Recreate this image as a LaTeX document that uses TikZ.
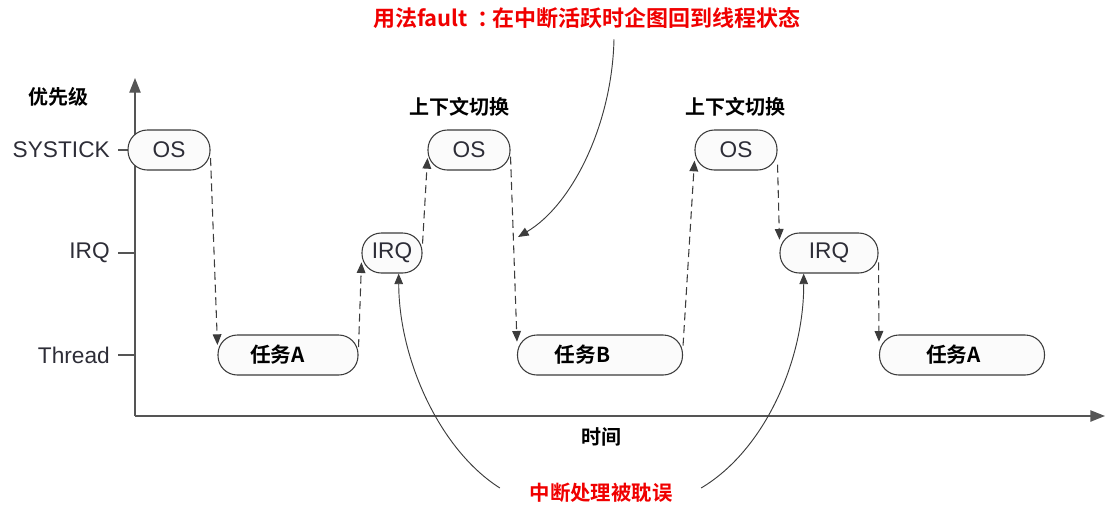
\documentclass[tikz,border=0pt]{standalone}
\usepackage{fontspec}
\setmainfont{Liberation Sans}
\newfontfamily\cjk{Noto Sans CJK SC}[BoldFont={Noto Sans CJK SC Bold}]
\usetikzlibrary{arrows.meta, calc}
\definecolor{linegray}{RGB}{60,60,60}
\definecolor{axisgray}{RGB}{85,85,85}
\definecolor{labelgray}{RGB}{45,45,55}
\definecolor{notered}{RGB}{240,0,0}

\begin{document}
\begin{tikzpicture}[x=0.75pt, y=-0.75pt,
  statebox/.style={draw=linegray, line width=0.8pt, fill=gray!3, rounded corners=14.5pt, minimum height=30pt, inner sep=0pt, text=labelgray, font=\fontsize{17pt}{20pt}\selectfont},
  taskbox/.style={statebox, text=black, font=\cjk\bfseries\fontsize{15.5pt}{18pt}\selectfont},
  levellabel/.style={anchor=east, inner xsep=0pt, text=labelgray, font=\fontsize{17pt}{20pt}\selectfont},
  cnlabel/.style={font=\cjk\bfseries\fontsize{15pt}{18pt}\selectfont},
  notelabel/.style={text=notered, font=\cjk\bfseries\fontsize{16.5pt}{19pt}\selectfont},
  flow/.style={draw=linegray, line width=0.8pt, dash pattern=on 6pt off 3.5pt, -{Triangle[length=8pt,width=6.5pt]}},
  pointer/.style={draw=linegray, line width=0.7pt, -{Triangle[length=8pt,width=6.5pt]}},
  axisline/.style={draw=axisgray, line width=1pt, -{Triangle[length=11pt,width=8.5pt]}}
]
  \useasboundingbox (0,0) rectangle (1105,504);

  % axes and ticks
  \coordinate (origin) at (135,416);
  \draw[axisline] (origin) -- (135,78);
  \draw[axisline] (origin) -- (1105,416);
  \foreach \yy in {150,253,355}
    \draw[axisgray, line width=0.8pt] (118,\yy) -- (135,\yy);

  \node[cnlabel] (prio) at (58,97) {优先级};
  \node[levellabel] (systick) at (110,150) {SYSTICK};
  \node[levellabel] (irqlvl) at (110,253) {IRQ};
  \node[levellabel] (thread) at (110,355) {Thread};
  \node[cnlabel] (time) at (601,437) {时间};

  % states
  \node[statebox, minimum width=61.5pt] (os1) at (169,150) {OS};
  \node[taskbox, minimum width=105pt] (taska) at (288,355) {任务A\kern16pt};
  \node[statebox, minimum width=45pt] (irq1) at (392,253) {IRQ};
  \node[statebox, minimum width=61.5pt] (os2) at (469,150) {OS};
  \node[taskbox, minimum width=123.75pt] (taskb) at (600,355) {任务B\kern26pt};
  \node[statebox, minimum width=61.5pt] (os3) at (736,150) {OS};
  \node[statebox, minimum width=73.5pt] (irq2) at (829,253) {IRQ};
  \node[taskbox, minimum width=123.75pt] (taska2) at (962,355) {任务A\kern13pt};

  \node[cnlabel] (switch1) at (459,107) {上下文切换};
  \node[cnlabel] (switch2) at (735,107) {上下文切换};

  % transitions
  \draw[flow] ([yshift=-6pt]os1.east) -- ([yshift=7.5pt]taska.west);
  \draw[flow] ([yshift=6pt]taska.east) -- ([yshift=-7pt]irq1.west);
  \draw[flow] ([yshift=7pt]irq1.east) -- ([yshift=-6pt]os2.west);
  \draw[flow] ([yshift=-5pt]os2.east) -- ([yshift=10pt]taskb.west);
  \draw[flow] ([yshift=7pt]taskb.east) -- ([yshift=-8pt]os3.west);
  \draw[flow] ([yshift=-11pt]os3.east) -- ([yshift=10pt]irq2.west);
  \draw[flow] ([yshift=-7pt]irq2.east) -- ([yshift=10pt]taska2.west);

  % notes
  \node[notelabel] (fault) at (587,18) {用法fault\kern7pt：\kern-5pt在中断活跃时企图回到线程状态};
  \node[notelabel, font=\cjk\bfseries\fontsize{15.3pt}{18pt}\selectfont] (delay) at (601,493) {中断处理被耽误};
  \coordinate (hit) at (518,237);
  \draw[pointer] ($(fault.south)+(27,6)$) .. controls (612,125) and (572,205) .. (hit);
  \draw[pointer] ($(delay.west)+(-25,-5)$) .. controls (440,450) and (399,360) .. ([xshift=5pt]irq1.south);
  \draw[pointer] ($(delay.east)+(24,-5)$) .. controls (765,450) and (804,360) .. ([xshift=-19pt]irq2.south);
\end{tikzpicture}
\end{document}
